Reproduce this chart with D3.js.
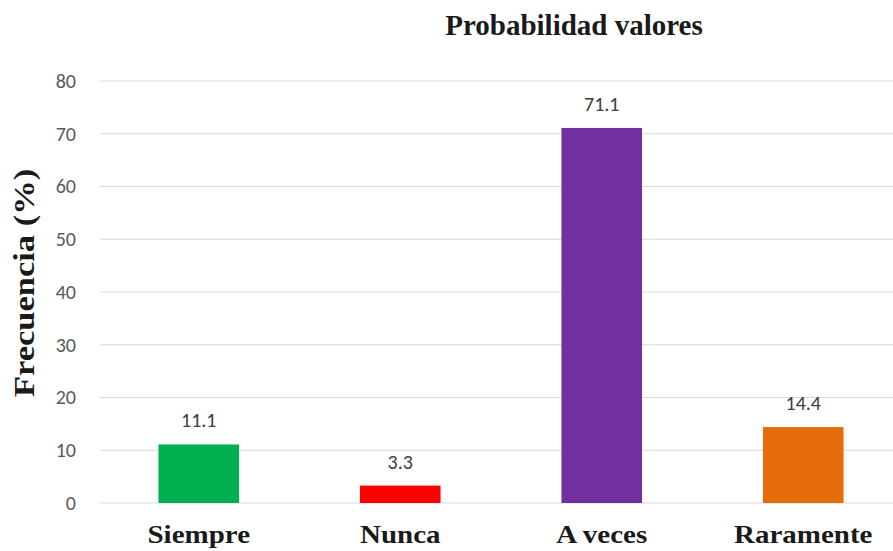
<!DOCTYPE html>
<html><head><meta charset="utf-8">
<script src="https://cdn.jsdelivr.net/npm/d3@7"></script>
<style>body{margin:0;background:#fff}svg{display:block}</style>
</head><body><svg id="c" width="893" height="551"></svg>
<script>
const categories = ["Siempre", "Nunca", "A veces", "Raramente"];
const values = [11.1, 3.3, 71.1, 14.4];
const colors = ["#00B050", "#FF0000", "#7030A0", "#E46C0A"];
const yTicks = [0, 10, 20, 30, 40, 50, 60, 70, 80];
const title = "Probabilidad valores";
const yLabel = "Frecuencia (%)";

const svg = d3.select("#c");
const x = d3.scaleBand().domain(categories).range([98, 904]).paddingInner(0.6).paddingOuter(0.3);
const y = d3.scaleLinear().domain([0, 80]).range([503, 81]);

// grid
svg.append("g").selectAll("line").data(yTicks).join("line")
  .attr("x1", 100).attr("x2", 893)
  .attr("y1", d => y(d)).attr("y2", d => y(d))
  .attr("stroke", "#d9d9d9").attr("stroke-width", 1);

// y axis
const ya = svg.append("g").attr("transform", "translate(100,0)")
  .call(d3.axisLeft(y).tickValues(yTicks).tickSize(0).tickPadding(24));
ya.select(".domain").remove();
ya.selectAll("text").attr("font-family", "Carlito, 'Open Sans', sans-serif")
  .attr("font-size", 20).attr("fill", "#595959");

// x axis
const xa = svg.append("g").attr("transform", "translate(0,503)")
  .call(d3.axisBottom(x).tickSize(0).tickPadding(0));
xa.select(".domain").remove();
xa.selectAll("text")
  .attr("dy", null).attr("y", 40)
  .attr("transform", "scale(1.16,1)")
  .attr("font-family", "'Liberation Serif', serif")
  .attr("font-size", 25).attr("font-weight", "bold").attr("fill", "#1a1a1a");

// bars
svg.append("g").selectAll("rect").data(values).join("rect")
  .attr("x", (d, i) => x(categories[i]))
  .attr("width", x.bandwidth())
  .attr("y", d => y(d))
  .attr("height", d => y(0) - y(d))
  .attr("fill", (d, i) => colors[i]);

// value labels
svg.append("g").selectAll("text").data(values).join("text")
  .attr("x", (d, i) => x(categories[i]) + x.bandwidth() / 2)
  .attr("y", d => y(d) - 17)
  .attr("text-anchor", "middle")
  .attr("font-family", "Carlito, 'Open Sans', sans-serif")
  .attr("font-size", 20).attr("fill", "#404040")
  .text(d => d.toFixed(1));

// title
svg.append("text").attr("x", 574).attr("y", 35).attr("text-anchor", "middle")
  .attr("font-family", "'Liberation Serif', serif").attr("font-weight", "bold")
  .attr("font-size", 29).attr("fill", "#1a1a1a").text(title);

// y label
svg.append("text").attr("transform", "translate(34,283) rotate(-90) scale(1.15,1)")
  .attr("text-anchor", "middle")
  .attr("font-family", "'Liberation Serif', serif").attr("font-weight", "bold")
  .attr("font-size", 30).attr("fill", "#1a1a1a").text(yLabel);
</script></body></html>
